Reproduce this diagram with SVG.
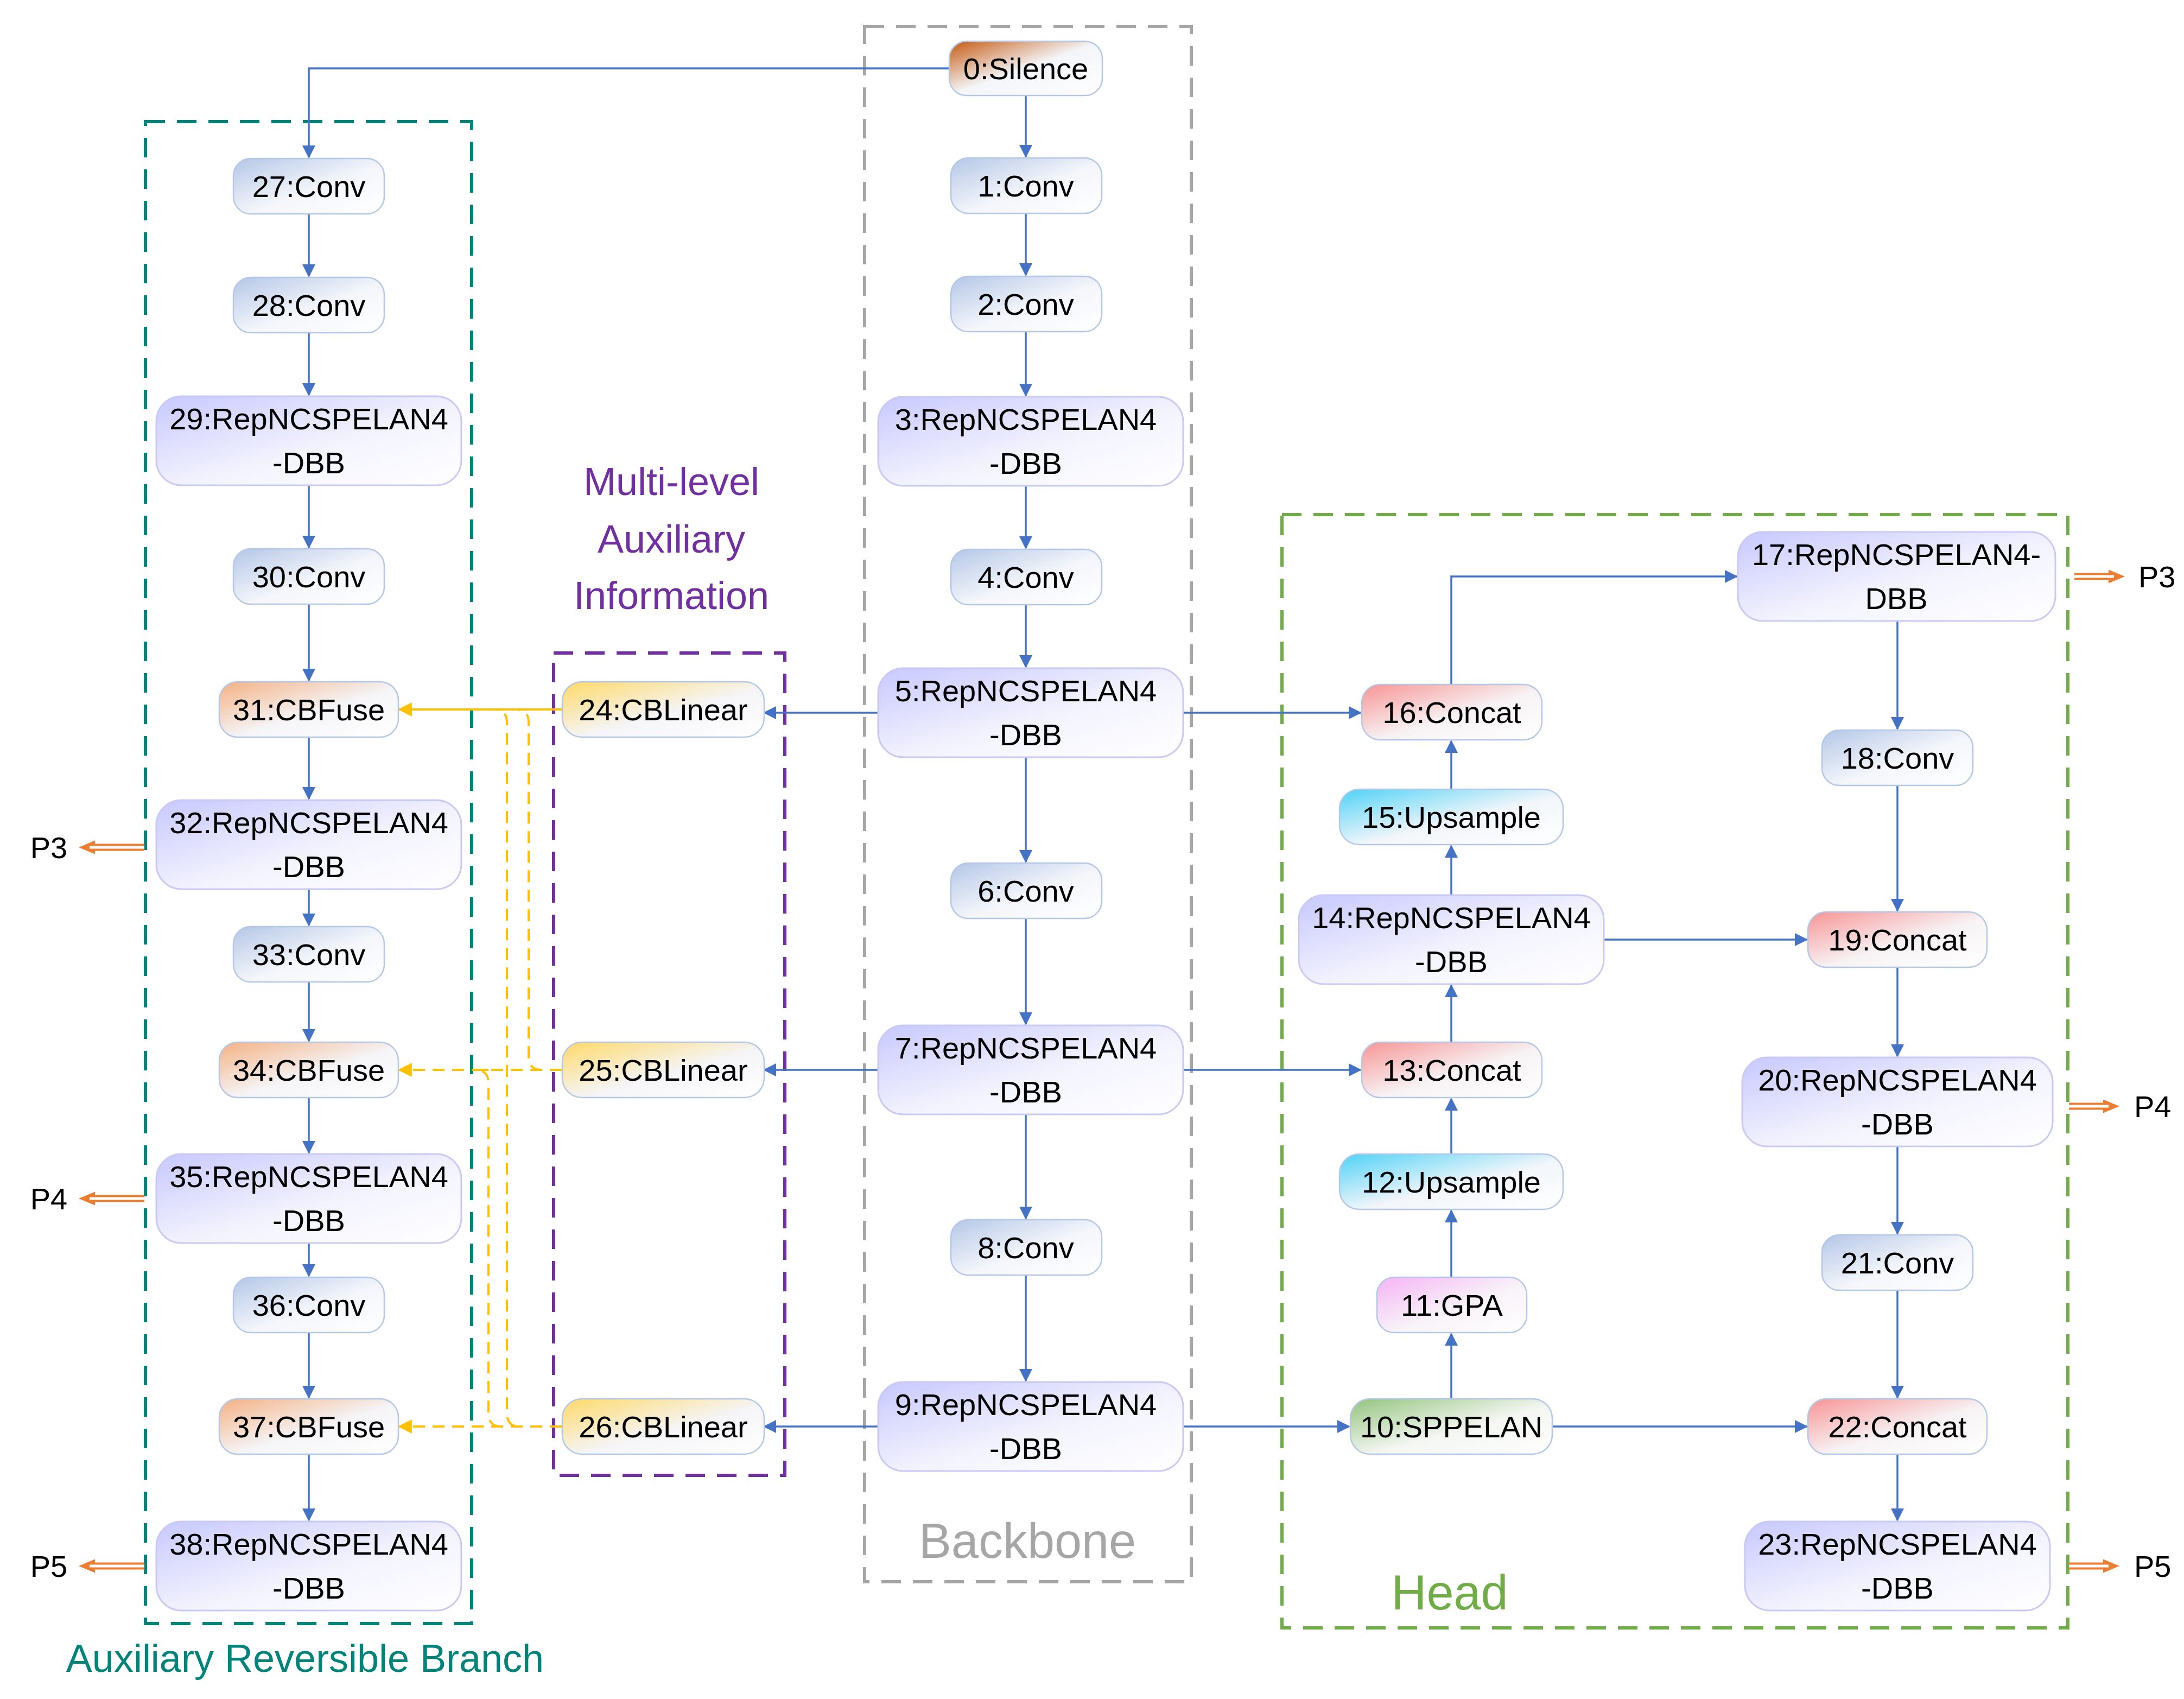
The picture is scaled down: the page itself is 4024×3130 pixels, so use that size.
<svg xmlns="http://www.w3.org/2000/svg" width="4024" height="3130" viewBox="0 0 4024 3130">
<style>
text{font-family:"Liberation Sans","DejaVu Sans",sans-serif;font-size:56px;fill:#000;text-anchor:middle}
.n{stroke:#B4C7E7;stroke-width:2.5}
.rep{stroke:#C9C9F5;stroke-width:3}
.e{fill:none;stroke:#4472C4;stroke-width:3.5;marker-end:url(#ab)}
.y{fill:none;stroke:#FFC000;stroke-width:4;stroke-dasharray:22 14}
.ys{fill:none;stroke:#FFC000;stroke-width:4}
.po{fill:none;stroke:#ED7D31;stroke-width:13}
.pw{fill:none;stroke:#fff;stroke-width:5}
.box{fill:none;stroke-width:6;stroke-dasharray:36 22}
</style>
<defs>
<marker id="ab" markerWidth="24" markerHeight="24" viewBox="0 0 24 24" refX="22" refY="12" orient="auto" markerUnits="userSpaceOnUse"><path d="M0 0L24 12L0 24z" fill="#4472C4"/></marker>
<marker id="ay" markerWidth="26" markerHeight="26" viewBox="0 0 24 24" refX="22" refY="12" orient="auto" markerUnits="userSpaceOnUse"><path d="M0 0L24 12L0 24z" fill="#FFC000"/></marker>
<marker id="ao" markerWidth="30" markerHeight="30" viewBox="0 0 24 24" refX="12" refY="12" orient="auto" markerUnits="userSpaceOnUse"><path d="M0 2L24 12L0 22z" fill="#ED7D31"/></marker>
<linearGradient id="gConv" x1="0" y1="0" x2="1" y2="1"><stop offset="0" stop-color="#B4C7E7"/><stop offset="0.55" stop-color="#F4F6FB"/><stop offset="1" stop-color="#fff"/></linearGradient>
<linearGradient id="gRep" x1="0" y1="0" x2="1" y2="1"><stop offset="0" stop-color="#C8C8FF"/><stop offset="0.55" stop-color="#F3F3FE"/><stop offset="1" stop-color="#fff"/></linearGradient>
<linearGradient id="gFuse" x1="0" y1="0" x2="1" y2="1"><stop offset="0" stop-color="#F4B183"/><stop offset="0.55" stop-color="#F5F5F8"/><stop offset="1" stop-color="#fff"/></linearGradient>
<linearGradient id="gLin" x1="0" y1="0" x2="1" y2="1"><stop offset="0" stop-color="#FFD966"/><stop offset="0.55" stop-color="#F5F5F8"/><stop offset="1" stop-color="#fff"/></linearGradient>
<linearGradient id="gCat" x1="0" y1="0" x2="1" y2="1"><stop offset="0" stop-color="#F89494"/><stop offset="0.55" stop-color="#F7F3F5"/><stop offset="1" stop-color="#fff"/></linearGradient>
<linearGradient id="gUp" x1="0" y1="0" x2="1" y2="1"><stop offset="0" stop-color="#4FD2F7"/><stop offset="0.55" stop-color="#F2F6FA"/><stop offset="1" stop-color="#fff"/></linearGradient>
<linearGradient id="gGPA" x1="0" y1="0" x2="1" y2="1"><stop offset="0" stop-color="#F5B3F5"/><stop offset="0.55" stop-color="#F8F3F8"/><stop offset="1" stop-color="#fff"/></linearGradient>
<linearGradient id="gSPP" x1="0" y1="0" x2="1" y2="1"><stop offset="0" stop-color="#93C47D"/><stop offset="0.55" stop-color="#F3F6F1"/><stop offset="1" stop-color="#fff"/></linearGradient>
<linearGradient id="gSil" x1="0" y1="0" x2="1" y2="1"><stop offset="0" stop-color="#C55A11"/><stop offset="0.5" stop-color="#F4F5F9"/><stop offset="1" stop-color="#fff"/></linearGradient>
</defs>
<rect width="4024" height="3130" fill="#fff"/>

<g id="groups">
<rect class="box" x="1593" y="49" width="602" height="2865" stroke="#A6A6A6"/>
<text x="1893" y="2870" style="font-size:90px;fill:#A6A6A6">Backbone</text>
<rect class="box" x="268" y="224" width="601" height="2767" stroke="#00847A"/>
<text x="562" y="3080" style="font-size:72px;fill:#00847A">Auxiliary Reversible Branch</text>
<rect class="box" x="1020" y="1203" width="426" height="1515" stroke="#7030A0"/>
<text x="1237" y="912" style="font-size:72px;fill:#7030A0">Multi-level</text>
<text x="1237" y="1018" style="font-size:72px;fill:#7030A0">Auxiliary</text>
<text x="1237" y="1122" style="font-size:72px;fill:#7030A0">Information</text>
<rect class="box" x="2362" y="948" width="1448" height="2051" stroke="#70AD47"/>
<text x="2671" y="2965" style="font-size:90px;fill:#70AD47">Head</text>
</g>

<g id="connectors">
<path class="e" d="M1752 126H569V290"/>
<path class="e" d="M1890 176V289"/>
<path class="e" d="M1890 393V507"/>
<path class="e" d="M1890 611V729"/>
<path class="e" d="M1890 895V1010"/>
<path class="e" d="M1890 1114V1229"/>
<path class="e" d="M1890 1395V1588"/>
<path class="e" d="M1890 1692V1887"/>
<path class="e" d="M1890 2053V2245"/>
<path class="e" d="M1890 2349V2544"/>
<path class="e" d="M569 394V509"/>
<path class="e" d="M569 613V728"/>
<path class="e" d="M569 894V1009"/>
<path class="e" d="M569 1113V1254"/>
<path class="e" d="M569 1358V1472"/>
<path class="e" d="M569 1638V1705"/>
<path class="e" d="M569 1809V1918"/>
<path class="e" d="M569 2022V2124"/>
<path class="e" d="M569 2290V2351"/>
<path class="e" d="M569 2455V2575"/>
<path class="e" d="M569 2679V2801"/>
<path class="e" d="M1618 1313H1408"/>
<path class="e" d="M1618 1971H1408"/>
<path class="e" d="M1618 2628H1408"/>
<path class="e" d="M2180 1313H2507"/>
<path class="e" d="M2180 1971H2507"/>
<path class="e" d="M2180 2628H2486"/>
<path class="e" d="M2674 2577V2457"/>
<path class="e" d="M2674 2353V2230"/>
<path class="e" d="M2674 2126V2024"/>
<path class="e" d="M2674 1920V1815"/>
<path class="e" d="M2674 1649V1558"/>
<path class="e" d="M2674 1454V1365"/>
<path class="e" d="M2674 1261V1062H3200"/>
<path class="e" d="M2955 1731H3329"/>
<path class="e" d="M2860 2628H3329"/>
<path class="e" d="M3496 1144V1343"/>
<path class="e" d="M3496 1447V1678"/>
<path class="e" d="M3496 1782V1946"/>
<path class="e" d="M3496 2112V2273"/>
<path class="e" d="M3496 2377V2575"/>
<path class="e" d="M3496 2679V2801"/>
<path class="ys" d="M1035 1307H735" marker-end="url(#ay)"/>
<path class="y" d="M1035 1307H950Q974 1307 974 1331V1947Q974 1971 998 1971"/>
<path class="y" d="M960 1307H910Q934 1307 934 1331V2604Q934 2628 958 2628"/>
<path class="y" d="M1035 1971H735" marker-end="url(#ay)"/>
<path class="y" d="M900 1971H876Q900 1971 900 1995V2604Q900 2628 924 2628"/>
<path class="y" d="M1035 2628H735" marker-end="url(#ay)"/>
</g>

<g id="outputs">
<path class="po" d="M3822 1062H3900" marker-end="url(#ao)"/><path class="pw" d="M3822 1062H3895"/>
<text x="3940" y="1082" style="text-anchor:start">P3</text>
<path class="po" d="M3812 2038H3890" marker-end="url(#ao)"/><path class="pw" d="M3812 2038H3885"/>
<text x="3932" y="2058" style="text-anchor:start">P4</text>
<path class="po" d="M3812 2885H3890" marker-end="url(#ao)"/><path class="pw" d="M3812 2885H3885"/>
<text x="3932" y="2905" style="text-anchor:start">P5</text>
<path class="po" d="M266 1561H160" marker-end="url(#ao)"/><path class="pw" d="M266 1561H165"/>
<text x="90" y="1581">P3</text>
<path class="po" d="M266 2208H160" marker-end="url(#ao)"/><path class="pw" d="M266 2208H165"/>
<text x="90" y="2228">P4</text>
<path class="po" d="M266 2885H160" marker-end="url(#ao)"/><path class="pw" d="M266 2885H165"/>
<text x="90" y="2905">P5</text>
</g>

<g id="n0"><rect class="n" x="1749" y="76" width="282" height="100" rx="32" fill="url(#gSil)"/><text x="1890" y="146">0:Silence</text></g>
<g id="n1"><rect class="n" x="1752" y="291" width="278" height="102" rx="32" fill="url(#gConv)"/><text x="1890" y="362">1:Conv</text></g>
<g id="n2"><rect class="n" x="1752" y="509" width="278" height="102" rx="32" fill="url(#gConv)"/><text x="1890" y="580">2:Conv</text></g>
<g id="n3"><rect class="rep" x="1618" y="731" width="562" height="164" rx="46" fill="url(#gRep)"/><text x="1890" y="792">3:RepNCSPELAN4</text><text x="1890" y="873">-DBB</text></g>
<g id="n4"><rect class="n" x="1752" y="1012" width="278" height="102" rx="32" fill="url(#gConv)"/><text x="1890" y="1083">4:Conv</text></g>
<g id="n5"><rect class="rep" x="1618" y="1231" width="562" height="164" rx="46" fill="url(#gRep)"/><text x="1890" y="1292">5:RepNCSPELAN4</text><text x="1890" y="1373">-DBB</text></g>
<g id="n6"><rect class="n" x="1752" y="1590" width="278" height="102" rx="32" fill="url(#gConv)"/><text x="1890" y="1661">6:Conv</text></g>
<g id="n7"><rect class="rep" x="1618" y="1889" width="562" height="164" rx="46" fill="url(#gRep)"/><text x="1890" y="1950">7:RepNCSPELAN4</text><text x="1890" y="2031">-DBB</text></g>
<g id="n8"><rect class="n" x="1752" y="2247" width="278" height="102" rx="32" fill="url(#gConv)"/><text x="1890" y="2318">8:Conv</text></g>
<g id="n9"><rect class="rep" x="1618" y="2546" width="562" height="164" rx="46" fill="url(#gRep)"/><text x="1890" y="2607">9:RepNCSPELAN4</text><text x="1890" y="2688">-DBB</text></g>

<g id="n27"><rect class="n" x="430" y="292" width="278" height="102" rx="32" fill="url(#gConv)"/><text x="569" y="363">27:Conv</text></g>
<g id="n28"><rect class="n" x="430" y="511" width="278" height="102" rx="32" fill="url(#gConv)"/><text x="569" y="582">28:Conv</text></g>
<g id="n29"><rect class="rep" x="288" y="730" width="562" height="164" rx="46" fill="url(#gRep)"/><text x="569" y="791">29:RepNCSPELAN4</text><text x="569" y="872">-DBB</text></g>
<g id="n30"><rect class="n" x="430" y="1011" width="278" height="102" rx="32" fill="url(#gConv)"/><text x="569" y="1082">30:Conv</text></g>
<g id="n31"><rect class="n" x="404" y="1256" width="330" height="102" rx="34" fill="url(#gFuse)"/><text x="569" y="1327">31:CBFuse</text></g>
<g id="n32"><rect class="rep" x="288" y="1474" width="562" height="164" rx="46" fill="url(#gRep)"/><text x="569" y="1535">32:RepNCSPELAN4</text><text x="569" y="1616">-DBB</text></g>
<g id="n33"><rect class="n" x="430" y="1707" width="278" height="102" rx="32" fill="url(#gConv)"/><text x="569" y="1778">33:Conv</text></g>
<g id="n34"><rect class="n" x="404" y="1920" width="330" height="102" rx="34" fill="url(#gFuse)"/><text x="569" y="1991">34:CBFuse</text></g>
<g id="n35"><rect class="rep" x="288" y="2126" width="562" height="164" rx="46" fill="url(#gRep)"/><text x="569" y="2187">35:RepNCSPELAN4</text><text x="569" y="2268">-DBB</text></g>
<g id="n36"><rect class="n" x="430" y="2353" width="278" height="102" rx="32" fill="url(#gConv)"/><text x="569" y="2424">36:Conv</text></g>
<g id="n37"><rect class="n" x="404" y="2577" width="330" height="102" rx="34" fill="url(#gFuse)"/><text x="569" y="2648">37:CBFuse</text></g>
<g id="n38"><rect class="rep" x="288" y="2803" width="562" height="164" rx="46" fill="url(#gRep)"/><text x="569" y="2864">38:RepNCSPELAN4</text><text x="569" y="2945">-DBB</text></g>

<g id="n24"><rect class="n" x="1036" y="1256" width="372" height="102" rx="36" fill="url(#gLin)"/><text x="1222" y="1327">24:CBLinear</text></g>
<g id="n25"><rect class="n" x="1036" y="1920" width="372" height="102" rx="36" fill="url(#gLin)"/><text x="1222" y="1991">25:CBLinear</text></g>
<g id="n26"><rect class="n" x="1036" y="2577" width="372" height="102" rx="36" fill="url(#gLin)"/><text x="1222" y="2648">26:CBLinear</text></g>

<g id="n16"><rect class="n" x="2509" y="1261" width="332" height="102" rx="34" fill="url(#gCat)"/><text x="2675" y="1332">16:Concat</text></g>
<g id="n15"><rect class="n" x="2468" y="1454" width="412" height="102" rx="36" fill="url(#gUp)"/><text x="2674" y="1525">15:Upsample</text></g>
<g id="n14"><rect class="rep" x="2393" y="1649" width="562" height="164" rx="46" fill="url(#gRep)"/><text x="2674" y="1710">14:RepNCSPELAN4</text><text x="2674" y="1791">-DBB</text></g>
<g id="n13"><rect class="n" x="2509" y="1920" width="332" height="102" rx="34" fill="url(#gCat)"/><text x="2675" y="1991">13:Concat</text></g>
<g id="n12"><rect class="n" x="2468" y="2126" width="412" height="102" rx="36" fill="url(#gUp)"/><text x="2674" y="2197">12:Upsample</text></g>
<g id="n11"><rect class="n" x="2537" y="2353" width="276" height="102" rx="32" fill="url(#gGPA)"/><text x="2675" y="2424">11:GPA</text></g>
<g id="n10"><rect class="n" x="2488" y="2577" width="372" height="102" rx="36" fill="url(#gSPP)"/><text x="2674" y="2648">10:SPPELAN</text></g>

<g id="n17"><rect class="rep" x="3202" y="980" width="585" height="164" rx="46" fill="url(#gRep)"/><text x="3494" y="1041">17:RepNCSPELAN4-</text><text x="3494" y="1122">DBB</text></g>
<g id="n18"><rect class="n" x="3357" y="1345" width="278" height="102" rx="32" fill="url(#gConv)"/><text x="3496" y="1416">18:Conv</text></g>
<g id="n19"><rect class="n" x="3331" y="1680" width="330" height="102" rx="34" fill="url(#gCat)"/><text x="3496" y="1751">19:Concat</text></g>
<g id="n20"><rect class="rep" x="3210" y="1948" width="572" height="164" rx="46" fill="url(#gRep)"/><text x="3496" y="2009">20:RepNCSPELAN4</text><text x="3496" y="2090">-DBB</text></g>
<g id="n21"><rect class="n" x="3357" y="2275" width="278" height="102" rx="32" fill="url(#gConv)"/><text x="3496" y="2346">21:Conv</text></g>
<g id="n22"><rect class="n" x="3331" y="2577" width="330" height="102" rx="34" fill="url(#gCat)"/><text x="3496" y="2648">22:Concat</text></g>
<g id="n23"><rect class="rep" x="3215" y="2803" width="562" height="164" rx="46" fill="url(#gRep)"/><text x="3496" y="2864">23:RepNCSPELAN4</text><text x="3496" y="2945">-DBB</text></g>
</svg>
